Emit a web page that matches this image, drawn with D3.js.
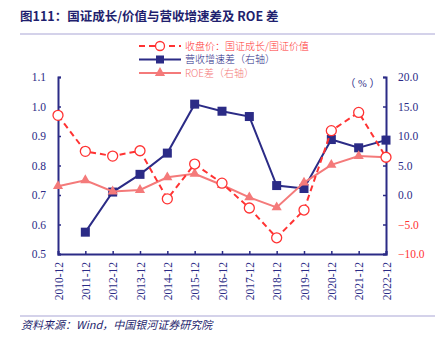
<!DOCTYPE html>
<html>
<head>
<meta charset="utf-8">
<script src="https://cdn.jsdelivr.net/npm/d3@7"></script>
<style>
  body { margin: 0; background: #fff; }
  svg text { font-family: "Liberation Serif", "Noto Sans CJK SC", serif; }
</style>
</head>
<body>
<div id="chart"></div>
<script>
const years = ["2010-12","2011-12","2012-12","2013-12","2014-12","2015-12","2016-12","2017-12","2018-12","2019-12","2020-12","2021-12","2022-12"];
const priceRatio = [0.97,0.848,0.832,0.85,0.687,0.805,0.74,0.656,0.555,0.649,0.918,0.98,0.828];
const revenueDiff = [null,-6.3,0.5,3.5,7.1,15.4,14.2,13.3,1.6,1.1,9.4,8.0,9.3];
const roeDiff = [1.5,2.5,0.6,0.85,3.0,3.6,1.7,-0.4,-2.1,2.1,5.1,6.6,6.4];
const leftTicks = [0.5,0.6,0.7,0.8,0.9,1.0,1.1];
const rightTicks = [-10,-5,0,5,10,15,20];

const navy = "#2b2b86", red = "#ff3333", salmon = "#f47a7a";
const W = 440, H = 339;
const m = { left: 58, right: 386, top: 77, bottom: 254 };

const svg = d3.select("#chart").append("svg").attr("width", W).attr("height", H);

// title
svg.append("text").attr("x", 20).attr("y", 21).attr("fill", "#1f1f6e")
  .attr("font-size", 12.5).attr("font-weight", "bold")
  .style("font-family", "'Noto Sans CJK SC', sans-serif")
  .text("图111：国证成长/价值与营收增速差及 ROE 差");
svg.append("line").attr("x1", 20).attr("x2", 435).attr("y1", 34).attr("y2", 34)
  .attr("stroke", "#a9a6d6").attr("stroke-width", 1.2);

const x = d3.scalePoint().domain(years).range([m.left, m.right]);
const yL = d3.scaleLinear().domain([0.5, 1.1]).range([m.bottom, m.top]);
const yR = d3.scaleLinear().domain([-10, 20]).range([m.bottom, m.top]);

// axes
const leftAxis = svg.append("g").attr("transform", `translate(${m.left},0)`)
  .call(d3.axisLeft(yL).tickValues(leftTicks).tickSize(-3).tickPadding(12).tickFormat(d3.format(".1f")));
const rightAxis = svg.append("g").attr("transform", `translate(${m.right},0)`)
  .call(d3.axisRight(yR).tickValues(rightTicks).tickSize(-3).tickPadding(12).tickFormat(d => d3.format(".1f")(d).replace("-", "−")));
const bottomAxis = svg.append("g").attr("transform", `translate(0,${m.bottom})`)
  .call(d3.axisBottom(x).tickSize(-3).tickPadding(8));

[leftAxis, rightAxis, bottomAxis].forEach(g => {
  g.select(".domain").attr("stroke", navy).attr("stroke-width", 2);
  g.selectAll(".tick line").attr("stroke", navy).attr("stroke-width", 1.5);
  g.selectAll("text").attr("fill", navy).attr("font-size", 11.5)
    .style("font-family", "'Liberation Serif', serif");
});
rightAxis.selectAll(".tick text").attr("fill", d => d < 0 ? red : navy);
bottomAxis.selectAll(".tick text")
  .attr("transform", "rotate(-90)")
  .attr("text-anchor", "end")
  .attr("x", -8).attr("y", 0).attr("dy", "0.35em");

svg.append("text").attr("x", 380).attr("y", 87).attr("text-anchor", "end")
  .attr("fill", navy).attr("font-size", 10.5).text("（ % ）");

// lines
const lineR = d3.line().x(d => x(d.k)).y(d => yR(d.v));
const lineL = d3.line().x(d => x(d.k)).y(d => yL(d.v));
const revData = years.map((k, i) => ({ k, v: revenueDiff[i] })).filter(d => d.v != null);
const roeData = years.map((k, i) => ({ k, v: roeDiff[i] }));
const priceData = years.map((k, i) => ({ k, v: priceRatio[i] }));

svg.append("path").datum(revData).attr("d", lineR).attr("fill", "none")
  .attr("stroke", navy).attr("stroke-width", 2);
svg.selectAll(".rev").data(revData).enter().append("rect")
  .attr("x", d => x(d.k) - 4.5).attr("y", d => yR(d.v) - 4.5)
  .attr("width", 9).attr("height", 9).attr("fill", navy);

svg.append("path").datum(roeData).attr("d", lineR).attr("fill", "none")
  .attr("stroke", salmon).attr("stroke-width", 2);
const tri = d3.symbol().type(d3.symbolTriangle).size(45);
svg.selectAll(".roe").data(roeData).enter().append("path")
  .attr("d", tri).attr("transform", d => `translate(${x(d.k)},${yR(d.v)})`)
  .attr("fill", salmon);

svg.append("path").datum(priceData).attr("d", lineL).attr("fill", "none")
  .attr("stroke", red).attr("stroke-width", 2).attr("stroke-dasharray", "6,4");
svg.selectAll(".price").data(priceData).enter().append("circle")
  .attr("cx", d => x(d.k)).attr("cy", d => yL(d.v)).attr("r", 5)
  .attr("fill", "#fff").attr("stroke", red).attr("stroke-width", 1.3);

// legend
const legend = [
  { label: "收盘价：国证成长/国证价值", color: red, dash: "6,4", mark: "circle" },
  { label: "营收增速差（右轴）", color: navy, dash: null, mark: "square" },
  { label: "ROE差（右轴）", color: salmon, dash: null, mark: "triangle" }
];
legend.forEach((l, i) => {
  const ly = 46 + i * 13.5;
  const g = svg.append("g");
  g.append("line").attr("x1", 139).attr("x2", 181).attr("y1", ly).attr("y2", ly)
    .attr("stroke", l.color).attr("stroke-width", 2).attr("stroke-dasharray", l.dash);
  if (l.mark === "circle") {
    g.append("circle").attr("cx", 160).attr("cy", ly).attr("r", 4.5)
      .attr("fill", "#fff").attr("stroke", l.color).attr("stroke-width", 1.3);
  } else if (l.mark === "square") {
    g.append("rect").attr("x", 156).attr("y", ly - 4).attr("width", 8).attr("height", 8).attr("fill", l.color);
  } else {
    g.append("path").attr("d", tri).attr("transform", `translate(160,${ly})`).attr("fill", l.color);
  }
  g.append("text").attr("x", 185).attr("y", ly + 3.5).attr("fill", l.color)
    .attr("font-size", 10).style("font-family", "'Noto Sans CJK SC', serif")
    .style("font-weight", 300).text(l.label);
});

// footer
svg.append("line").attr("x1", 20).attr("x2", 435).attr("y1", 316).attr("y2", 316)
  .attr("stroke", "#a9a6d6").attr("stroke-width", 1.2);
svg.append("text").attr("x", 21).attr("y", 329).attr("fill", "#1f1f6e")
  .attr("font-size", 11).attr("font-style", "italic")
  .style("font-family", "'Noto Sans CJK SC', serif")
  .text("资料来源：Wind，中国银河证券研究院");
</script>
</body>
</html>
